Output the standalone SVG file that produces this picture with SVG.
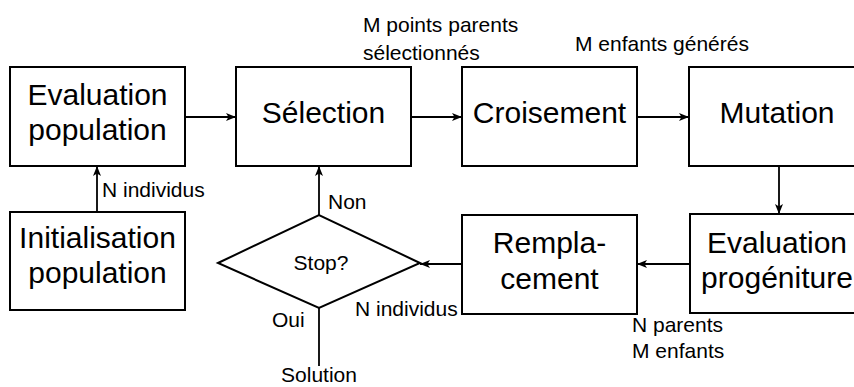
<svg xmlns="http://www.w3.org/2000/svg" width="854" height="387" viewBox="0 0 854 387">
<style>
  .box { fill: #ffffff; stroke: #000000; stroke-width: 2; }
  .big { font-family: "Liberation Sans", Arial, Helvetica, sans-serif; font-size: 30px; fill: #000000; text-anchor: middle; }
  .lbl { font-family: "Liberation Sans", Arial, Helvetica, sans-serif; font-size: 21px; fill: #000000; }
  .mid { text-anchor: middle; }
  .conn { fill: none; stroke: #000000; stroke-width: 1.8; }
</style>
<defs>
  <marker id="arr" viewBox="0 0 10 8" refX="10" refY="4" markerWidth="10" markerHeight="8" markerUnits="userSpaceOnUse" orient="auto">
    <path d="M0,0 L10,4 L0,8 L2.5,4 z" fill="#000000"/>
  </marker>
</defs>
<rect width="854" height="387" fill="#ffffff"/>

<g id="connectors">
  <line class="conn" x1="185" y1="117" x2="236" y2="117" marker-end="url(#arr)"/>
  <line class="conn" x1="411" y1="117" x2="462" y2="117" marker-end="url(#arr)"/>
  <line class="conn" x1="637" y1="117" x2="689" y2="117" marker-end="url(#arr)"/>
  <line class="conn" x1="779" y1="166" x2="779" y2="214" marker-end="url(#arr)"/>
  <line class="conn" x1="690" y1="264" x2="637" y2="264" marker-end="url(#arr)"/>
  <line class="conn" x1="462" y1="264" x2="420" y2="264" marker-end="url(#arr)"/>
  <line class="conn" x1="319" y1="215" x2="319" y2="166" marker-end="url(#arr)"/>
  <line class="conn" x1="97" y1="212" x2="97" y2="166" marker-end="url(#arr)"/>
  <line class="conn" x1="319" y1="308" x2="319" y2="366"/>
</g>

<g id="eval-pop">
  <rect class="box" x="10" y="67" width="175" height="99"/>
  <text class="big" x="97.5" y="105">Evaluation</text>
  <text class="big" x="97.5" y="140">population</text>
</g>
<g id="selection">
  <rect class="box" x="236" y="67" width="175" height="99"/>
  <text class="big" x="323.5" y="123">Sélection</text>
</g>
<g id="croisement">
  <rect class="box" x="462" y="67" width="175" height="99"/>
  <text class="big" x="549.5" y="123">Croisement</text>
</g>
<g id="mutation">
  <rect class="box" x="689" y="67" width="175" height="99"/>
  <text class="big" x="777" y="123">Mutation</text>
</g>
<g id="eval-prog">
  <rect class="box" x="690" y="214" width="175" height="99"/>
  <text class="big" x="777" y="253">Evaluation</text>
  <text class="big" x="777" y="288">progéniture</text>
</g>
<g id="remplacement">
  <rect class="box" x="462" y="215" width="175" height="99"/>
  <text class="big" x="549.5" y="253">Rempla-</text>
  <text class="big" x="549.5" y="289">cement</text>
</g>
<g id="init-pop">
  <rect class="box" x="10" y="212" width="175" height="98"/>
  <text class="big" x="97.5" y="248">Initialisation</text>
  <text class="big" x="97.5" y="283">population</text>
</g>
<g id="stop">
  <polygon class="box" points="218,263 319,215 420,263 319,308"/>
  <text class="lbl mid" x="321" y="270">Stop?</text>
</g>

<g id="labels">
  <text class="lbl" x="363" y="31.5">M points parents</text>
  <text class="lbl" x="363" y="60">sélectionnés</text>
  <text class="lbl" x="575" y="51">M enfants générés</text>
  <text class="lbl" x="102" y="197">N individus</text>
  <text class="lbl" x="328" y="209">Non</text>
  <text class="lbl" x="272" y="327">Oui</text>
  <text class="lbl" x="355" y="316">N individus</text>
  <text class="lbl mid" x="319" y="382">Solution</text>
  <text class="lbl" x="632" y="332">N parents</text>
  <text class="lbl" x="632" y="358">M enfants</text>
</g>
</svg>
